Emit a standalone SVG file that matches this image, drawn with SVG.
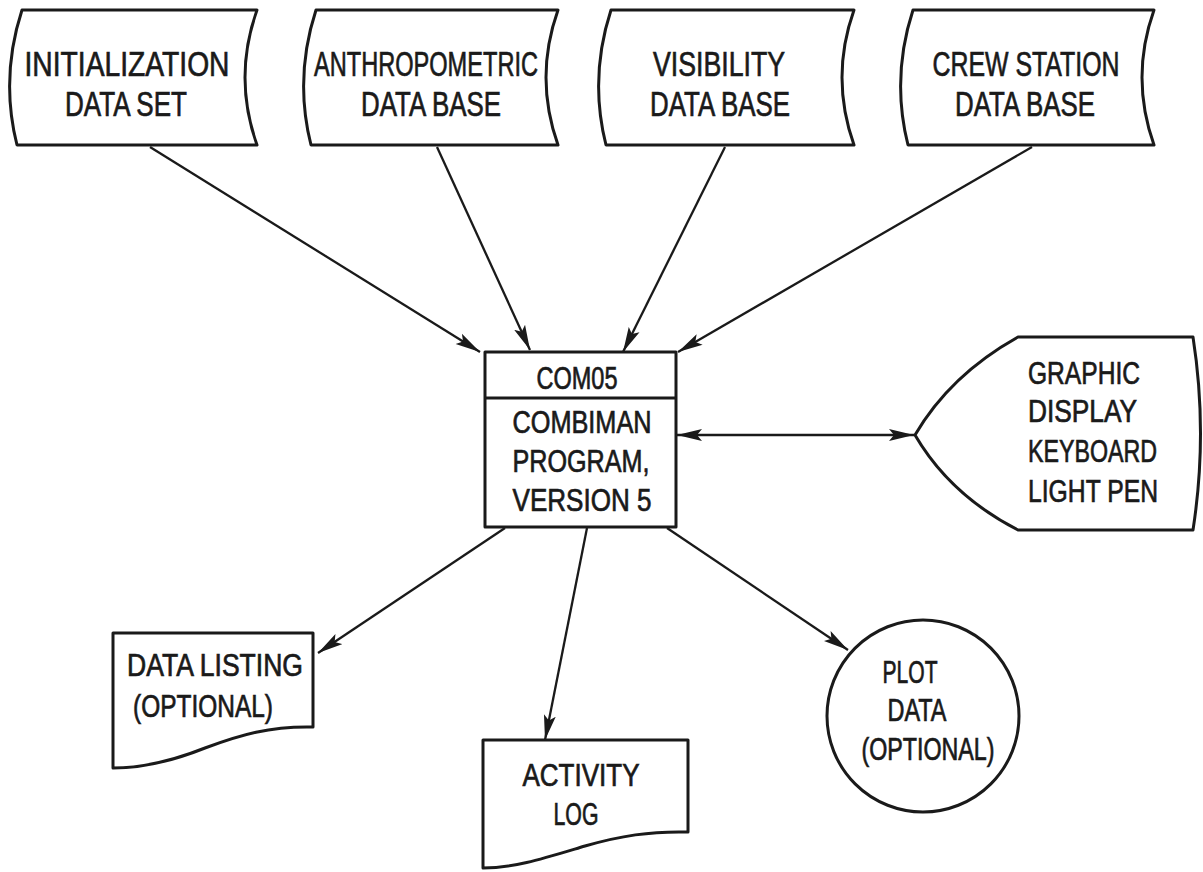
<svg xmlns="http://www.w3.org/2000/svg" width="1203" height="872" viewBox="0 0 1203 872">
<style>
.shape{fill:#fff;stroke:#1a1a1a;stroke-width:3;stroke-linejoin:round}
.conn{fill:none;stroke:#1a1a1a;stroke-width:2.3}
text{font-family:"Liberation Sans",Arial,sans-serif;fill:#1a1a1a;stroke:#1a1a1a;stroke-width:0.7;text-anchor:middle}
.big{font-size:35px}
.mid{font-size:31px}
.disp{font-size:31px;text-anchor:start}
</style>
<defs>
<marker id="ah" markerUnits="userSpaceOnUse" markerWidth="26" markerHeight="14" refX="25" refY="7" orient="auto-start-reverse" viewBox="0 0 26 14">
<path d="M0,1 L25,7 L0,13 L5,7 Z" fill="#1a1a1a"/>
</marker>
</defs>
<rect width="1203" height="872" fill="#fff"/>
<g id="connectors">
<line class="conn" x1="150" y1="147" x2="480" y2="352" marker-end="url(#ah)"/>
<line class="conn" x1="437" y1="147" x2="530" y2="350" marker-end="url(#ah)"/>
<line class="conn" x1="725" y1="147" x2="623" y2="352" marker-end="url(#ah)"/>
<line class="conn" x1="1032" y1="147" x2="678" y2="352" marker-end="url(#ah)"/>
<line class="conn" x1="677" y1="435" x2="914" y2="435" marker-start="url(#ah)" marker-end="url(#ah)"/>
<line class="conn" x1="505" y1="528" x2="318" y2="653" marker-end="url(#ah)"/>
<line class="conn" x1="587" y1="528" x2="545" y2="740" marker-end="url(#ah)"/>
<line class="conn" x1="667" y1="528" x2="848" y2="650" marker-end="url(#ah)"/>
</g>
<g id="init">
<path class="shape" d="M22,10 L257,10 Q233,77.5 257,145 L17,145 Q0,77.5 22,10 Z"/>
<text class="big" x="127" y="76" textLength="205" lengthAdjust="spacingAndGlyphs">INITIALIZATION</text>
<text class="big" x="126" y="116" textLength="122" lengthAdjust="spacingAndGlyphs">DATA SET</text>
</g>
<g id="anthro">
<path class="shape" d="M316,10 L558,10 Q534,77.5 558,145 L311,145 Q294,77.5 316,10 Z"/>
<text class="big" x="426" y="76" textLength="224" lengthAdjust="spacingAndGlyphs">ANTHROPOMETRIC</text>
<text class="big" x="431" y="116" textLength="140" lengthAdjust="spacingAndGlyphs">DATA BASE</text>
</g>
<g id="visibility">
<path class="shape" d="M611,10 L854,10 Q830,77.5 854,145 L606,145 Q589,77.5 611,10 Z"/>
<text class="big" x="719" y="76" textLength="132" lengthAdjust="spacingAndGlyphs">VISIBILITY</text>
<text class="big" x="720" y="116" textLength="140" lengthAdjust="spacingAndGlyphs">DATA BASE</text>
</g>
<g id="crew">
<path class="shape" d="M913,10 L1154,10 Q1130,77.5 1154,145 L908,145 Q891,77.5 913,10 Z"/>
<text class="big" x="1026" y="76" textLength="187" lengthAdjust="spacingAndGlyphs">CREW STATION</text>
<text class="big" x="1025" y="116" textLength="140" lengthAdjust="spacingAndGlyphs">DATA BASE</text>
</g>
<g id="com05">
<rect class="shape" x="485" y="352" width="191" height="175"/>
<line x1="485" y1="398" x2="676" y2="398" stroke="#1a1a1a" stroke-width="3"/>
<text class="mid" x="577" y="389" textLength="81" lengthAdjust="spacingAndGlyphs">COM05</text>
<text class="mid" x="582" y="433" textLength="139" lengthAdjust="spacingAndGlyphs">COMBIMAN</text>
<text class="mid" x="581" y="472" textLength="137" lengthAdjust="spacingAndGlyphs">PROGRAM,</text>
<text class="mid" x="582" y="511" textLength="139" lengthAdjust="spacingAndGlyphs">VERSION 5</text>
</g>
<g id="display">
<path class="shape" d="M915,435 Q950,375 1018,337 L1193,337 Q1208,433 1193,530 L1018,530 Q950,495 915,435 Z"/>
<text class="disp" x="1028" y="384" textLength="112" lengthAdjust="spacingAndGlyphs">GRAPHIC</text>
<text class="disp" x="1028" y="422" textLength="109" lengthAdjust="spacingAndGlyphs">DISPLAY</text>
<text class="disp" x="1028" y="462" textLength="129" lengthAdjust="spacingAndGlyphs">KEYBOARD</text>
<text class="disp" x="1028" y="502" textLength="130" lengthAdjust="spacingAndGlyphs">LIGHT PEN</text>
</g>
<g id="listing">
<path class="shape" d="M113,633 L313,633 L313,727 C270,726 240,735 205,748 C170,762 140,768 113,768 Z"/>
<text class="mid" x="215" y="676" textLength="176" lengthAdjust="spacingAndGlyphs">DATA LISTING</text>
<text class="mid" x="203" y="717" textLength="140" lengthAdjust="spacingAndGlyphs">(OPTIONAL)</text>
</g>
<g id="activity">
<path class="shape" d="M483,740 L688,740 L688,832 C650,831 620,836 585,846 C545,858 515,868 483,868 Z"/>
<text class="mid" x="581" y="786" textLength="117" lengthAdjust="spacingAndGlyphs">ACTIVITY</text>
<text class="mid" x="576" y="825" textLength="45" lengthAdjust="spacingAndGlyphs">LOG</text>
</g>
<g id="plot">
<circle class="shape" cx="923" cy="716" r="96"/>
<text class="mid" x="910" y="683" textLength="55" lengthAdjust="spacingAndGlyphs">PLOT</text>
<text class="mid" x="917" y="721" textLength="59" lengthAdjust="spacingAndGlyphs">DATA</text>
<text class="mid" x="928" y="760" textLength="133" lengthAdjust="spacingAndGlyphs">(OPTIONAL)</text>
</g>
</svg>
